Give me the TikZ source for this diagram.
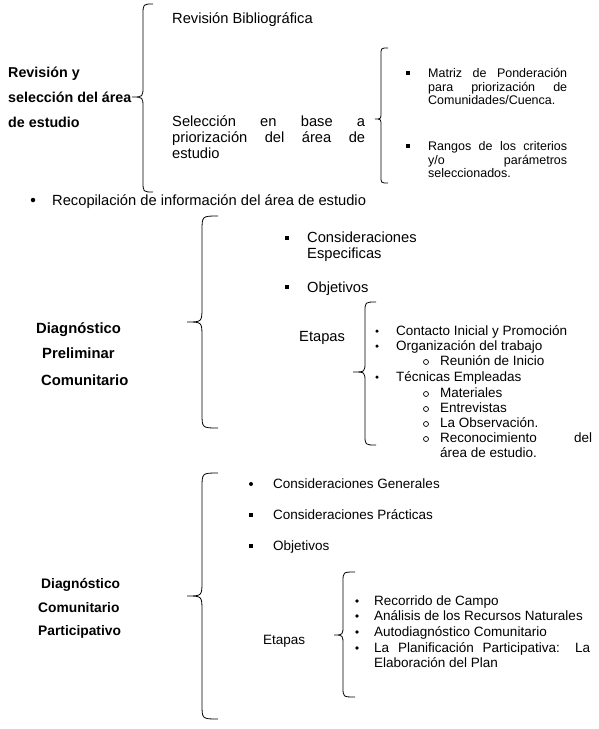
\documentclass[tikz,border=0pt]{standalone}
\usepackage{fontspec}
\setmainfont{Liberation Sans}
\newcommand\bracedraw[7]{% r xe xs xt ytop ytip ybot
  \draw[brc] (#2,#5) .. controls (#3,#5) .. (#3,#5+#1) -- (#3,#6-#1)
    .. controls (#3,#6) .. (#4,#6) .. controls (#3,#6) .. (#3,#6+#1)
    -- (#3,#7-#1) .. controls (#3,#7) .. (#2,#7);}
\begin{document}
\begin{tikzpicture}[x=1pt,y=-1pt,
  big/.style={anchor=base west, inner sep=0pt, font=\fontsize{14.7}{17}\selectfont},
  mid/.style={anchor=base west, inner sep=0pt, font=\fontsize{13.5}{16}\selectfont},
  sml/.style={anchor=base west, inner sep=0pt, font=\fontsize{12.5}{14}\selectfont},
  labA/.style={anchor=base west, inner sep=0pt, font=\bfseries\fontsize{14.3}{17}\selectfont},
  labB/.style={anchor=base west, inner sep=0pt, font=\bfseries\fontsize{14.8}{17}\selectfont},
  labC/.style={anchor=base west, inner sep=0pt, font=\bfseries\fontsize{13.8}{16}\selectfont},
  dotb/.style={circle, fill=black, inner sep=0pt, minimum size=4pt},
  sqb/.style={rectangle, fill=black, inner sep=0pt, minimum size=3.6pt},
  ringb/.style={circle, draw=black, line width=0.7pt, inner sep=0pt, minimum size=5pt},
  brc/.style={draw=black, line width=0.8pt}]
\useasboundingbox[fill=white] (0,0) rectangle (599,729);

% ---------- top section ----------
\bracedraw{11}{153}{143}{132}{4}{97}{192}
\node[big] (rb) at (172,23.3) {Revisión Bibliográfica};
\node[labA] (l1) at (8,77.1) {Revisión y};
\node[labA] (l2) at (8,102.1) {selección del área};
\node[labA] (l3) at (8,127.1) {de estudio};
\node[big] (s1) at (172,126.3) {\makebox[193pt][s]{Selección en base a}};
\node[big] (s2) at (172,142.3) {\makebox[193pt][s]{priorización del área de}};
\node[big] (s3) at (172,158.3) {estudio};
\bracedraw{7}{388}{381}{375}{48}{119}{183}
\node[sqb] (q1) at (408,73) {};
\node[sml] (m1) at (428,77.5) {\makebox[139pt][s]{Matriz de Ponderación}};
\node[sml] (m2) at (428,91.5) {\makebox[139pt][s]{para priorización de}};
\node[sml] (m3) at (428,104.5) {Comunidades/Cuenca.};
\node[sqb] (q2) at (408,146) {};
\node[sml] (r1) at (428,150.5) {\makebox[139pt][s]{Rangos de los criterios}};
\node[sml] (r2) at (428,164.5) {\makebox[139pt][s]{y/o parámetros}};
\node[sml] (r3) at (428,177.5) {seleccionados.};
\node[dotb, minimum size=4.5pt] (d0) at (33,200) {};
\node[big] (rec) at (52,205.3) {Recopilación de información del área de estudio};

% ---------- middle section ----------
\bracedraw{15}{218}{202}{187}{216}{322}{428}
\node[labB] (p1) at (36,333.3) {Diagnóstico};
\node[labB] (p2) at (42,358.3) {Preliminar};
\node[labB] (p3) at (41,385.3) {Comunitario};
\node[sqb, minimum size=4pt] (q3) at (287,238) {};
\node[big] (ce1) at (307,242.3) {Consideraciones};
\node[big] (ce2) at (307,258.3) {Especificas};
\node[sqb, minimum size=4pt] (q4) at (287,287) {};
\node[big] (ob1) at (307,292.3) {Objetivos};
\node[big] (et1) at (299,341.3) {Etapas};
\bracedraw{10}{376}{365}{353}{302}{372}{445}
\node[dotb, minimum size=3.5pt] (e1) at (377,331) {};
\node[mid] (t1) at (396,335.9) {Contacto Inicial y Promoción};
\node[dotb, minimum size=3.5pt] (e2) at (377,346) {};
\node[mid] (t2) at (396,350.9) {Organización del trabajo};
\node[ringb] (o1) at (426,362) {};
\node[mid] (t3) at (440,365.9) {Reunión de Inicio};
\node[dotb, minimum size=3.5pt] (e3) at (377,377) {};
\node[mid] (t4) at (396,381.9) {Técnicas Empleadas};
\node[ringb] (o2) at (426,394) {};
\node[mid] (t5) at (440,397.9) {Materiales};
\node[ringb] (o3) at (426,409) {};
\node[mid] (t6) at (440,412.9) {Entrevistas};
\node[ringb] (o4) at (426,424) {};
\node[mid] (t7) at (440,427.9) {La Observación.};
\node[ringb] (o5) at (426,439) {};
\node[mid] (t8) at (440,442.9) {\makebox[152pt][s]{Reconocimiento del}};
\node[mid] (t9) at (440,457.9) {área de estudio.};

% ---------- bottom section ----------
\bracedraw{15}{218}{202}{187}{473}{596}{719}
\node[labC] (c1) at (41,588) {Diagnóstico};
\node[labC] (c2) at (38,612) {Comunitario};
\node[labC] (c3) at (38,635) {Participativo};
\node[dotb] (g1) at (251,484) {};
\node[mid] (cg) at (273,488.9) {Consideraciones Generales};
\node[sqb] (g2) at (251,515) {};
\node[mid] (cp) at (273,519.9) {Consideraciones Prácticas};
\node[sqb] (g3) at (251,546) {};
\node[mid] (ob2) at (273,550.9) {Objetivos};
\node[mid] (et2) at (263,644.7) {Etapas};
\bracedraw{10}{355}{343}{334}{572}{635}{697}
\node[dotb, minimum size=3.8pt] (h1) at (357,601) {};
\node[mid] (u1) at (374,605.9) {Recorrido de Campo};
\node[dotb, minimum size=3.8pt] (h2) at (357,616) {};
\node[mid] (u2) at (374,620.9) {Análisis de los Recursos Naturales};
\node[dotb, minimum size=3.8pt] (h3) at (357,632) {};
\node[mid] (u3) at (374,636.9) {Autodiagnóstico Comunitario};
\node[dotb, minimum size=3.8pt] (h4) at (357,648) {};
\node[mid] (u4) at (374,652.9) {\makebox[216pt][s]{La Planificación Participativa: La}};
\node[mid] (u5) at (374,667.9) {Elaboración del Plan};
\end{tikzpicture}
\end{document}
